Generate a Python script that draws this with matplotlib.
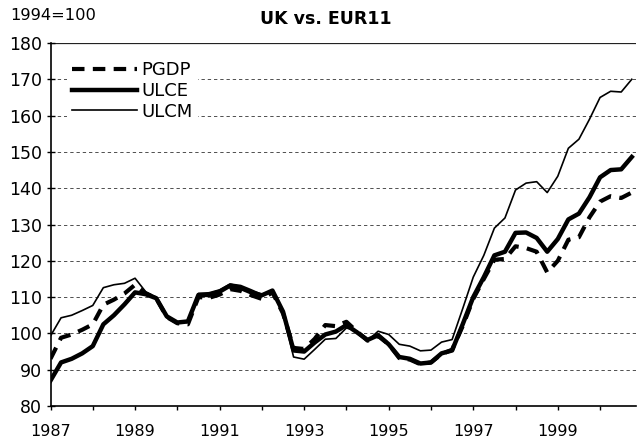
import numpy as np
import matplotlib
matplotlib.use("Agg")
import matplotlib.pyplot as plt

# quarterly data 1987Q1 .. 2000Q4
start_year = 1987
pgdp = [93, 98.8, 99.7, 101, 102.5, 107.9, 109.3, 111, 113.4, 111, 109.7, 104.5,
        102.8, 102.5, 110, 109.8, 110.7, 112.2, 111.7, 110.5, 109.5, 111.3, 105.5, 96,
        95.7, 98.5, 102.3, 102, 103.2, 100.5, 98, 99.3, 97, 93.2, 92.8, 91.5,
        92, 94.3, 95.5, 102, 109.5, 115, 120.3, 120.5, 124, 123.5, 122.5, 116.8,
        120, 125.8, 126.5, 132, 136.3, 137.8, 137.3, 138.8]
ulce = [87, 92, 93, 94.5, 96.5, 102.5, 105, 108, 111.3, 110.8, 109.7, 104.7,
        103, 103.3, 110.6, 110.6, 111.5, 113.2, 112.5, 111.3, 110.5, 111.8, 106, 95.3,
        95, 97.5, 99.7, 100.5, 102.3, 100.3, 98.2, 99.5, 97, 93.5, 93, 91.7,
        92, 94.5, 95.3, 102.5, 110, 115.5, 121.5, 122.5, 127.7, 127.8, 126.3, 122.5,
        126, 131.4, 133, 137.5, 143, 145, 145.2, 148.6]
ulcm = [99.3, 104.3, 105, 106.3, 107.7, 112.6, 113.4, 113.8, 115.2, 111.5, 110, 104.3,
        103, 103.5, 111, 111.2, 112, 113.6, 113.2, 112, 110.7, 112, 105.5, 93.5,
        92.9, 95.6, 98.4, 98.6, 101.5, 100.6, 98, 100.6, 99.7, 97, 96.5, 95.2,
        95.4, 97.6, 98.3, 106.8, 115.5, 121.5, 129, 131.8, 139.5, 141.4, 141.8, 138.8,
        143.3, 151, 153.5, 159, 165, 166.7, 166.5, 170]
year_ticks = list(range(1987, 2001))
year_labels = [str(y) if y % 2 == 1 else "" for y in year_ticks]
y_ticks = list(range(80, 181, 10))

t = start_year + 0.25 * np.arange(len(ulce))

plt.rcParams['font.family'] = ['DejaVu Sans']

fig = plt.figure(figsize=(6.39, 4.43), dpi=100)
ax = fig.add_axes([50.5 / 639, 1 - 406 / 443, 585.5 / 639, 363 / 443])

# gridlines
for yv in y_ticks[1:-1]:
    ax.axhline(yv, color='#333333', lw=0.6, linestyle=(0, (4, 3.5)), zorder=1)
ax.axhline(180, color='#222222', lw=0.9, zorder=1)

ax.plot(t, pgdp, color='black', lw=3.0, linestyle=(0, (3, 2)), label='PGDP', zorder=3)
ax.plot(t, ulce, color='black', lw=3.2, label='ULCE', zorder=4)
ax.plot(t, ulcm, color='black', lw=1.2, label='ULCM', zorder=5)

ax.set_xlim(1987, 2000.85)
ax.set_ylim(80, 180)
ax.set_yticks(y_ticks)
ax.set_xticks(year_ticks)
ax.set_xticklabels(year_labels)

for s in ['top', 'right']:
    ax.spines[s].set_visible(False)
for s in ['left', 'bottom']:
    ax.spines[s].set_linewidth(1.2)

ax.tick_params(axis='y', direction='inout', length=6, width=1, pad=3, labelsize=12.5)
ax.tick_params(axis='x', direction='out', length=3, width=1, pad=10, labelsize=11.5)

leg = ax.legend(loc='upper left', bbox_to_anchor=(0.028, 0.965), frameon=True,
                fontsize=13, handlelength=3.6, handletextpad=0.2,
                labelspacing=0.15, borderpad=0.3, borderaxespad=0)
leg.get_frame().set_facecolor('white')
leg.get_frame().set_edgecolor('none')
leg.get_frame().set_alpha(1)
leg.set_zorder(10)

fig.text(10 / 639, 1 - 16 / 443, '1994=100', fontsize=11.7, ha='left', va='center')
fig.text(326 / 639, 1 - 19 / 443, 'UK vs. EUR11', fontsize=12.5, fontweight='bold',
         ha='center', va='center')

fig.savefig('out.png', dpi=100)
